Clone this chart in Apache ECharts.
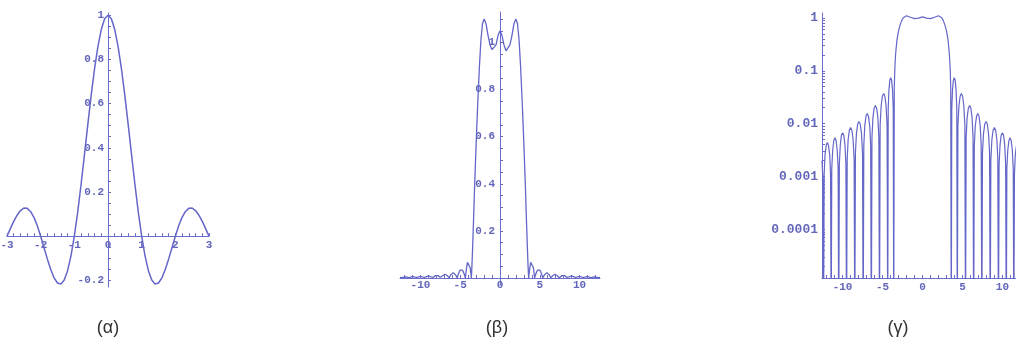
<!DOCTYPE html>
<html>
<head>
<meta charset="utf-8">
<script src="https://cdn.jsdelivr.net/npm/echarts@6/dist/echarts.min.js"></script>
<style>
  html, body { margin: 0; padding: 0; background: #ffffff; }
  #chart { width: 1016px; height: 347px; }
</style>
</head>
<body>
<div id="chart"></div>
<script>
// (α) impulse response: sinc pulse sampled every 0.1
const sincCurve = [
  [-3, 0], [-2.9, 0.034], [-2.8, 0.067], [-2.7, 0.095], [-2.6, 0.116], [-2.5, 0.127],
  [-2.4, 0.126], [-2.3, 0.112], [-2.2, 0.085], [-2.1, 0.047], [-2, 0],
  [-1.9, -0.052], [-1.8, -0.104], [-1.7, -0.151], [-1.6, -0.189], [-1.5, -0.212],
  [-1.4, -0.216], [-1.3, -0.198], [-1.2, -0.156], [-1.1, -0.089], [-1, 0],
  [-0.9, 0.109], [-0.8, 0.234], [-0.7, 0.368], [-0.6, 0.505], [-0.5, 0.637],
  [-0.4, 0.757], [-0.3, 0.858], [-0.2, 0.935], [-0.1, 0.984], [0, 1],
  [0.1, 0.984], [0.2, 0.935], [0.3, 0.858], [0.4, 0.757], [0.5, 0.637],
  [0.6, 0.505], [0.7, 0.368], [0.8, 0.234], [0.9, 0.109], [1, 0],
  [1.1, -0.089], [1.2, -0.156], [1.3, -0.198], [1.4, -0.216], [1.5, -0.212],
  [1.6, -0.189], [1.7, -0.151], [1.8, -0.104], [1.9, -0.052], [2, 0],
  [2.1, 0.047], [2.2, 0.085], [2.3, 0.112], [2.4, 0.126], [2.5, 0.127],
  [2.6, 0.116], [2.7, 0.095], [2.8, 0.067], [2.9, 0.034], [3, 0]
];
const sincXTicks = [-3, -2, -1, 0, 1, 2, 3];
const sincYTicks = [-0.2, 0.2, 0.4, 0.6, 0.8, 1];

// (β) and (γ) magnitude response |H|, as [frequency, magnitude]
const responseCurve = [
  [-12.57, 0.002], [-12.46, 0.0009],
  [-12.38, 1e-6], [-12.3, 0.0011], [-12.19, 0.0026], [-12.04, 0.0039], [-11.9, 0.0044], [-11.76, 0.0039], [-11.61, 0.0026], [-11.5, 0.0011],
  [-11.42, 1e-6], [-11.35, 0.0014], [-11.23, 0.0032], [-11.09, 0.0048], [-10.95, 0.0054], [-10.81, 0.0048], [-10.67, 0.0032], [-10.55, 0.0014],
  [-10.48, 1e-6], [-10.4, 0.0017], [-10.28, 0.004], [-10.14, 0.006], [-9.99, 0.0067], [-9.84, 0.006], [-9.7, 0.004], [-9.58, 0.0017],
  [-9.5, 1e-6], [-9.42, 0.0021], [-9.3, 0.005], [-9.15, 0.0075], [-8.99, 0.0084], [-8.83, 0.0075], [-8.68, 0.005], [-8.55, 0.0021],
  [-8.47, 1e-6], [-8.39, 0.0028], [-8.26, 0.0065], [-8.11, 0.0098], [-7.95, 0.011], [-7.79, 0.0098], [-7.63, 0.0065], [-7.5, 0.0028],
  [-7.42, 1e-6], [-7.34, 0.0039], [-7.22, 0.0091], [-7.07, 0.0138], [-6.91, 0.0155], [-6.76, 0.0138], [-6.6, 0.0091], [-6.48, 0.0039],
  [-6.4, 1e-6], [-6.32, 0.0055], [-6.2, 0.013], [-6.05, 0.0196], [-5.89, 0.022], [-5.74, 0.0196], [-5.58, 0.013], [-5.46, 0.0055],
  [-5.38, 1e-6], [-5.3, 0.0093], [-5.17, 0.0218], [-5.02, 0.033], [-4.86, 0.037], [-4.71, 0.033], [-4.56, 0.0218], [-4.43, 0.0093],
  [-4.35, 1e-6], [-4.29, 0.019], [-4.2, 0.043], [-4.09, 0.066], [-3.97, 0.074], [-3.86, 0.066], [-3.75, 0.043], [-3.66, 0.019],
  [-3.6, 1e-6], [-3.53, 0.05], [-3.45, 0.12], [-3.35, 0.22], [-3.2, 0.38], [-3, 0.57], [-2.8, 0.74], [-2.6, 0.89],
  [-2.4, 1.01], [-2.2, 1.08], [-2, 1.1], [-1.75, 1.08], [-1.5, 1.03], [-1.25, 0.99], [-1, 0.97], [-0.75, 0.965],
  [-0.5, 0.99], [-0.25, 1.03], [0, 1.05],
  [0.25, 1.03], [0.5, 0.99], [0.75, 0.965], [1, 0.97], [1.25, 0.99], [1.5, 1.03], [1.75, 1.08], [2, 1.1],
  [2.2, 1.08], [2.4, 1.01], [2.6, 0.89], [2.8, 0.74], [3, 0.57], [3.2, 0.38], [3.35, 0.22], [3.45, 0.12], [3.53, 0.05],
  [3.6, 1e-6], [3.66, 0.019], [3.75, 0.043], [3.86, 0.066], [3.97, 0.074], [4.09, 0.066], [4.2, 0.043], [4.29, 0.019],
  [4.35, 1e-6], [4.43, 0.0093], [4.56, 0.0218], [4.71, 0.033], [4.86, 0.037], [5.02, 0.033], [5.17, 0.0218], [5.3, 0.0093],
  [5.38, 1e-6], [5.46, 0.0055], [5.58, 0.013], [5.74, 0.0196], [5.89, 0.022], [6.05, 0.0196], [6.2, 0.013], [6.32, 0.0055],
  [6.4, 1e-6], [6.48, 0.0039], [6.6, 0.0091], [6.76, 0.0138], [6.91, 0.0155], [7.07, 0.0138], [7.22, 0.0091], [7.34, 0.0039],
  [7.42, 1e-6], [7.5, 0.0028], [7.63, 0.0065], [7.79, 0.0098], [7.95, 0.011], [8.11, 0.0098], [8.26, 0.0065], [8.39, 0.0028],
  [8.47, 1e-6], [8.55, 0.0021], [8.68, 0.005], [8.83, 0.0075], [8.99, 0.0084], [9.15, 0.0075], [9.3, 0.005], [9.42, 0.0021],
  [9.5, 1e-6], [9.58, 0.0017], [9.7, 0.004], [9.84, 0.006], [9.99, 0.0067], [10.14, 0.006], [10.28, 0.004], [10.4, 0.0017],
  [10.48, 1e-6], [10.55, 0.0014], [10.67, 0.0032], [10.81, 0.0048], [10.95, 0.0054], [11.09, 0.0048], [11.23, 0.0032], [11.35, 0.0014],
  [11.42, 1e-6], [11.5, 0.0011], [11.61, 0.0026], [11.76, 0.0039], [11.9, 0.0044], [12.04, 0.0039], [12.19, 0.0026], [12.3, 0.0011],
  [12.38, 1e-6], [12.46, 0.0009], [12.57, 0.002]
];
const responseXTicks = [-10, -5, 0, 5, 10];
const responseYTicks = [0.2, 0.4, 0.6, 0.8, 1];
const logYTicks = [0.0001, 0.001, 0.01, 0.1, 1];
const logYLabels = ['0.0001', '0.001', '0.01', '0.1', '1'];
const captions = ['(α)', '(β)', '(γ)'];

const AXIS_COLOR = '#6a6dcb';
const LABEL_COLOR = '#6366bb';
const CURVE_COLOR = '#6466c8';
const MONO = '"Liberation Mono", "DejaVu Sans Mono", monospace';

// plot areas (px) and value ranges of each panel
const gridA = { left: 7, top: 13, width: 202, height: 274 };
const gridB = { left: 400, top: 12, width: 200, height: 273 };
const gridC = { left: 822, top: 13, width: 201, height: 265 };
const rangeA = { x: [-3, 3], y: [-0.23, 1.01] };
const rangeB = { x: [-12.57, 12.57], y: [-0.03, 1.13] };
const rangeC = { x: [-12.57, 12.57], y: [1.2e-5, 1.24] };

// evenly spaced minor tick positions
function ticksBetween(from, to, step) {
  const out = [];
  for (let v = from; v <= to + 1e-9; v += step) out.push(+v.toFixed(6));
  return out;
}
// k * 10^n minor ticks for the log axis
function logTicks(fromExp, toExp) {
  const out = [];
  for (let e = fromExp; e <= toExp; e++) {
    for (let k = 1; k <= 9; k++) out.push(+(k * Math.pow(10, e)).toPrecision(6));
  }
  return out;
}
// shift that moves an edge axis onto the other axis's zero line
function zeroShift(range, size) {
  return -((0 - range[0]) / (range[1] - range[0])) * size;
}
const plainNumber = v => String(+(+v).toFixed(4));
const logLabel = v => {
  const i = logYTicks.findIndex(t => Math.abs(Math.log10(t) - Math.log10(v)) < 1e-6);
  return i >= 0 ? logYLabels[i] : '';
};

function makeAxis(gridIndex, type, range, labelValues, tickValues, label, extra) {
  return Object.assign({
    type: type,
    gridIndex: gridIndex,
    min: range[0],
    max: range[1],
    splitLine: { show: false },
    axisLine: { show: true, onZero: false, lineStyle: { color: AXIS_COLOR, width: 1 } },
    axisTick: { show: true, inside: true, length: 3, customValues: tickValues,
                lineStyle: { color: AXIS_COLOR, width: 1 } },
    axisLabel: Object.assign({
      show: true, customValues: labelValues, color: LABEL_COLOR,
      fontFamily: MONO, fontSize: 11, fontWeight: 'bold', margin: 4, formatter: plainNumber
    }, label)
  }, extra || {});
}

const chart = echarts.init(document.getElementById('chart'), null, { renderer: 'canvas' });

chart.setOption({
  backgroundColor: '#ffffff',
  animation: false,
  grid: [gridA, gridB, gridC].map(g => Object.assign({ containLabel: false, outerBoundsMode: 'none' }, g)),
  xAxis: [
    makeAxis(0, 'value', rangeA.x, sincXTicks, ticksBetween(-3, 3, 0.2), { margin: 4 },
             { position: 'bottom', offset: zeroShift(rangeA.y, gridA.height) }),
    makeAxis(1, 'value', rangeB.x, responseXTicks, ticksBetween(-12, 12, 1), { margin: 2 },
             { position: 'bottom', offset: zeroShift(rangeB.y, gridB.height) }),
    makeAxis(2, 'value', rangeC.x, responseXTicks, ticksBetween(-12, 12, 1), { margin: 4 },
             { position: 'bottom' })
  ],
  yAxis: [
    makeAxis(0, 'value', rangeA.y, sincYTicks, ticksBetween(-0.2, 1, 0.05), { margin: 4 },
             { position: 'left', offset: zeroShift(rangeA.x, gridA.width) }),
    makeAxis(1, 'value', rangeB.y, responseYTicks, ticksBetween(0.05, 1.1, 0.05), { margin: 5 },
             { position: 'left', offset: zeroShift(rangeB.x, gridB.width) }),
    makeAxis(2, 'log', rangeC.y, logYTicks, logTicks(-5, 0).filter(v => v >= rangeC.y[0] && v <= rangeC.y[1]),
             { margin: 4, fontSize: 13, formatter: logLabel },
             { logBase: 10, position: 'left' })
  ],
  series: [
    {
      type: 'line', xAxisIndex: 0, yAxisIndex: 0, data: sincCurve,
      showSymbol: false, smooth: false,
      lineStyle: { color: CURVE_COLOR, width: 1.5 }
    },
    {
      type: 'line', xAxisIndex: 1, yAxisIndex: 1, data: responseCurve,
      showSymbol: false, smooth: false,
      lineStyle: { color: CURVE_COLOR, width: 1.3 }
    },
    {
      type: 'line', xAxisIndex: 2, yAxisIndex: 2, data: responseCurve,
      showSymbol: false, smooth: false, clip: true,
      lineStyle: { color: CURVE_COLOR, width: 1.2 }
    }
  ],
  graphic: captions.map((t, i) => ({
    type: 'text',
    x: [108, 497, 898][i],
    y: 328,
    style: {
      text: t, align: 'center', verticalAlign: 'middle',
      textAlign: 'center', textVerticalAlign: 'middle',
      fontSize: 18, fontFamily: '"Liberation Sans", Arial, sans-serif', fill: '#333333'
    }
  }))
});
</script>
</body>
</html>
